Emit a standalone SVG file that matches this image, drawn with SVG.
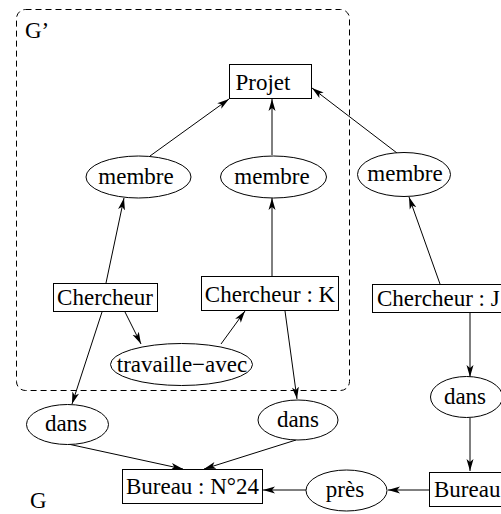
<svg xmlns="http://www.w3.org/2000/svg" width="501" height="514" viewBox="0 0 501 514">
  <style>
    .box { fill: #fff; stroke: #000; stroke-width: 1; }
    .ell { fill: #fff; stroke: #000; stroke-width: 1; }
    .lbl { font-family: "Liberation Serif", "Times New Roman", serif; font-size: 23px; fill: #000; }
    .edge { stroke: #000; stroke-width: 1; fill: none; marker-end: url(#arrow); }
  </style>
  <defs>
    <marker id="arrow" markerUnits="userSpaceOnUse" markerWidth="13" markerHeight="8" refX="12" refY="4" orient="auto">
      <path d="M0,0.5 L12,4 L0,7.5 L3,4 Z" fill="#000"/>
    </marker>
  </defs>
  <rect width="501" height="514" fill="#fff"/>

  <!-- subgraph G' frame -->
  <g id="frame-g-prime">
    <rect x="16.5" y="9.5" width="333" height="381" rx="9" fill="none" stroke="#000" stroke-width="1" stroke-dasharray="6,4"/>
    <text class="lbl" x="25" y="38">G’</text>
  </g>
  <g id="label-g"><text class="lbl" x="30" y="508">G</text></g>

  <!-- connectors -->
  <g id="connectors">
    <line class="edge" x1="150" y1="156" x2="229" y2="99"/>
    <line class="edge" x1="272" y1="155" x2="272" y2="99"/>
    <line class="edge" x1="397" y1="153" x2="312" y2="88"/>
    <line class="edge" x1="106" y1="283" x2="124" y2="198"/>
    <line class="edge" x1="272" y1="277" x2="272" y2="198"/>
    <line class="edge" x1="440" y1="284" x2="409" y2="197"/>
    <line class="edge" x1="125" y1="312" x2="141" y2="344"/>
    <line class="edge" x1="221" y1="344" x2="245" y2="311"/>
    <line class="edge" x1="102" y1="312" x2="72" y2="404"/>
    <line class="edge" x1="285" y1="311" x2="297" y2="399"/>
    <line class="edge" x1="470" y1="313" x2="470" y2="377"/>
    <line class="edge" x1="470" y1="418" x2="470" y2="471"/>
    <line class="edge" x1="68" y1="444" x2="183" y2="469"/>
    <line class="edge" x1="296" y1="440" x2="204" y2="469"/>
    <line class="edge" x1="429" y1="490" x2="388" y2="490"/>
    <line class="edge" x1="306" y1="490" x2="263" y2="490"/>
  </g>

  <!-- nodes -->
  <g id="projet">
    <rect class="box" x="229.5" y="64.5" width="82" height="34"/>
    <text class="lbl" x="263" y="90" text-anchor="middle">Projet</text>
  </g>
  <g id="membre-1">
    <ellipse class="ell" cx="138.5" cy="177" rx="52.5" ry="21"/>
    <text class="lbl" x="136" y="184" text-anchor="middle">membre</text>
  </g>
  <g id="membre-2">
    <ellipse class="ell" cx="273.5" cy="177" rx="53" ry="21"/>
    <text class="lbl" x="272" y="184" text-anchor="middle">membre</text>
  </g>
  <g id="membre-3">
    <ellipse class="ell" cx="404" cy="174.5" rx="46.5" ry="22"/>
    <text class="lbl" x="405" y="181" text-anchor="middle">membre</text>
  </g>
  <g id="chercheur">
    <rect class="box" x="53.5" y="283.5" width="104" height="28"/>
    <text class="lbl" x="105" y="305" text-anchor="middle">Chercheur</text>
  </g>
  <g id="chercheur-k">
    <rect class="box" x="201.5" y="276.5" width="137" height="34"/>
    <text class="lbl" x="270" y="302" text-anchor="middle">Chercheur : K</text>
  </g>
  <g id="chercheur-j">
    <rect class="box" x="372.5" y="284.5" width="140" height="28"/>
    <text class="lbl" x="377" y="306">Chercheur : J</text>
  </g>
  <g id="travaille-avec">
    <ellipse class="ell" cx="181.5" cy="364.5" rx="71" ry="21"/>
    <text class="lbl" x="182" y="372" text-anchor="middle">travaille−avec</text>
  </g>
  <g id="dans-1">
    <ellipse class="ell" cx="67.5" cy="424.5" rx="41" ry="20"/>
    <text class="lbl" x="66" y="431" text-anchor="middle">dans</text>
  </g>
  <g id="dans-2">
    <ellipse class="ell" cx="298" cy="420" rx="40" ry="20"/>
    <text class="lbl" x="298" y="427" text-anchor="middle">dans</text>
  </g>
  <g id="dans-3">
    <ellipse class="ell" cx="466.5" cy="397" rx="36" ry="20.5"/>
    <text class="lbl" x="465" y="404" text-anchor="middle">dans</text>
  </g>
  <g id="bureau-n24">
    <rect class="box" x="122.5" y="469.5" width="140" height="34"/>
    <text class="lbl" x="192.5" y="494" text-anchor="middle">Bureau : N°24</text>
  </g>
  <g id="pres">
    <ellipse class="ell" cx="346.5" cy="490.5" rx="40.5" ry="20.5"/>
    <text class="lbl" x="345" y="497" text-anchor="middle">près</text>
  </g>
  <g id="bureau">
    <rect class="box" x="429.5" y="472.5" width="90" height="34"/>
    <text class="lbl" x="434" y="497">Bureau</text>
  </g>
</svg>
